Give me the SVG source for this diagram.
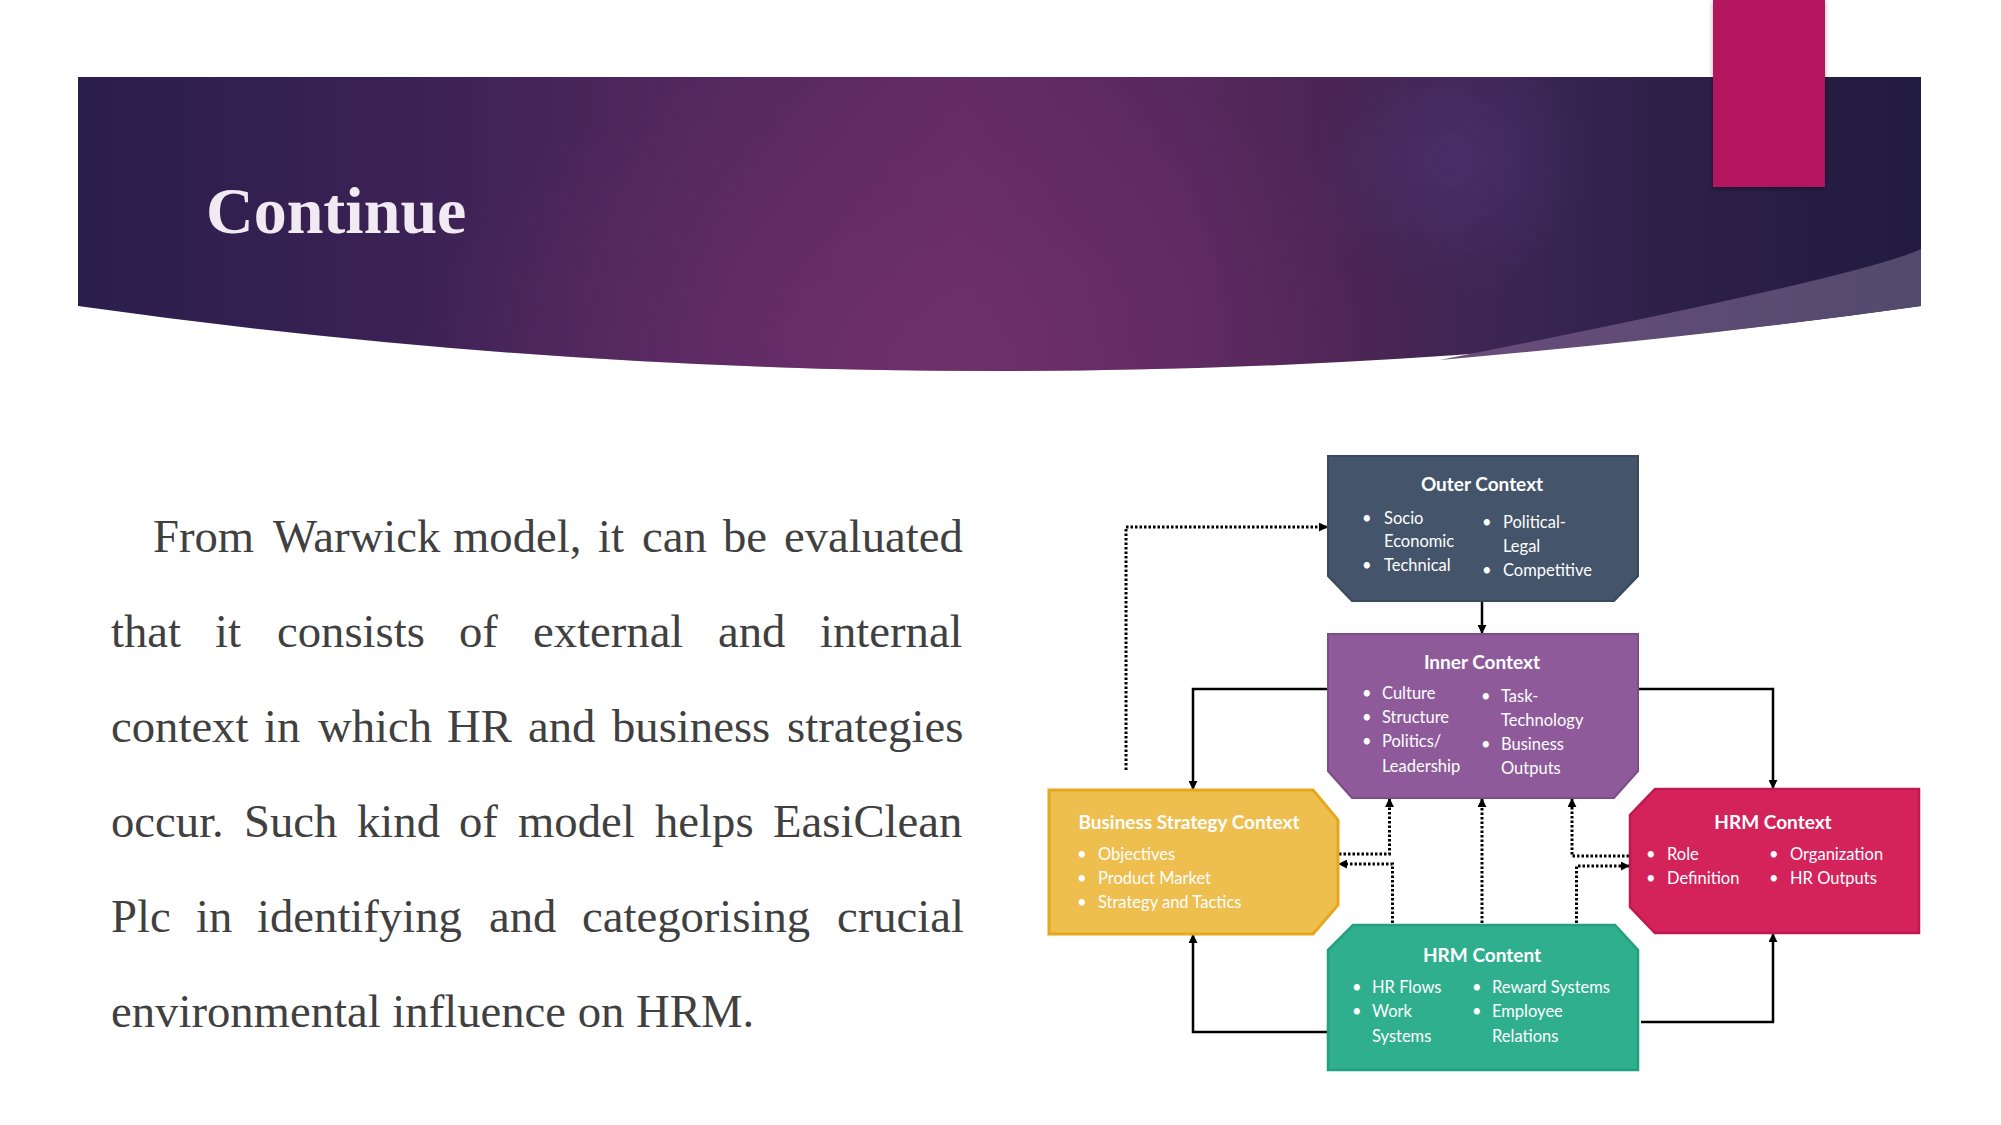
<svg xmlns="http://www.w3.org/2000/svg" width="2001" height="1125" viewBox="0 0 2001 1125">
<defs>
<linearGradient id="band" x1="78" y1="0" x2="1921" y2="0" gradientUnits="userSpaceOnUse">
<stop offset="0" stop-color="#2a1e4c"/>
<stop offset="0.18" stop-color="#3b2254"/>
<stop offset="0.35" stop-color="#552860"/>
<stop offset="0.48" stop-color="#632b65"/>
<stop offset="0.6" stop-color="#58285e"/>
<stop offset="0.7" stop-color="#472452"/>
<stop offset="0.78" stop-color="#3b2554"/>
<stop offset="0.86" stop-color="#2e2049"/>
<stop offset="1" stop-color="#221b40"/>
</linearGradient>
<radialGradient id="glowA" cx="930" cy="360" r="520" gradientUnits="userSpaceOnUse" gradientTransform="translate(930 360) scale(1 0.6) translate(-930 -360)">
<stop offset="0" stop-color="#7a3270" stop-opacity="0.55"/>
<stop offset="1" stop-color="#7a3270" stop-opacity="0"/>
</radialGradient>
<radialGradient id="glowB" cx="1450" cy="160" r="140" gradientUnits="userSpaceOnUse">
<stop offset="0" stop-color="#4c3474" stop-opacity="0.6"/>
<stop offset="1" stop-color="#4c3474" stop-opacity="0"/>
</radialGradient>
<linearGradient id="wedge" x1="1440" y1="0" x2="1921" y2="0" gradientUnits="userSpaceOnUse">
<stop offset="0" stop-color="#6a4d7c"/>
<stop offset="1" stop-color="#524a6c"/>
</linearGradient>
<filter id="shadow" x="-20%" y="-10%" width="140%" height="125%">
<feDropShadow dx="0" dy="2" stdDeviation="2.5" flood-color="#000" flood-opacity="0.35"/>
</filter>
<marker id="arr" viewBox="0 0 10 10" refX="9" refY="5" markerWidth="9" markerHeight="9" markerUnits="userSpaceOnUse" orient="auto">
<path d="M0,0 L10,5 L0,10 Z" fill="#000"/>
</marker>
</defs>
<style>
.body{font-family:"Liberation Serif","Times New Roman",serif;font-size:46.7px;fill:#404040}
.ttl{font-family:"Liberation Serif","Times New Roman",serif;font-size:66px;font-weight:bold;fill:#f2eaf2}
.nt{font-family:Lato,"Open Sans",sans-serif;font-weight:bold;font-size:19px;fill:#fff;text-anchor:middle}
.bt{font-family:Lato,"Open Sans",sans-serif;font-size:16.5px;fill:#fff}
.solid{fill:none;stroke:#000;stroke-width:2.5;marker-end:url(#arr)}
.dot{fill:none;stroke:#000;stroke-width:3;stroke-dasharray:2.5 2;marker-end:url(#arr)}
</style>
<rect width="2001" height="1125" fill="#fff"/>
<g id="header">
<path d="M78,77 H1921 V306 Q999.5,436 78,306 Z" fill="url(#band)"/>
<path d="M78,77 H1921 V306 Q999.5,436 78,306 Z" fill="url(#glowA)"/>
<path d="M78,77 H1921 V306 Q999.5,436 78,306 Z" fill="url(#glowB)"/>
<path d="M1440,360 Q1865,276 1921,249 V306 Q1700,337 1440,360 Z" fill="url(#wedge)"/>
<rect x="1713" y="0" width="112" height="187" fill="#b3135f" filter="url(#shadow)"/>
<text class="ttl" x="206" y="233">Continue</text>
</g>
<g id="body-text" class="body">
<text y="552"><tspan x="153">From</tspan><tspan x="273">Warwick</tspan><tspan x="453">model,</tspan><tspan x="598">it</tspan><tspan x="642">can</tspan><tspan x="723">be</tspan><tspan x="784">evaluated</tspan></text>
<text y="647"><tspan x="111">that</tspan><tspan x="215">it</tspan><tspan x="277">consists</tspan><tspan x="459">of</tspan><tspan x="533">external</tspan><tspan x="718">and</tspan><tspan x="820">internal</tspan></text>
<text y="742"><tspan x="111">context</tspan><tspan x="264">in</tspan><tspan x="318">which</tspan><tspan x="447">HR</tspan><tspan x="528">and</tspan><tspan x="612">business</tspan><tspan x="787">strategies</tspan></text>
<text y="837"><tspan x="111">occur.</tspan><tspan x="244">Such</tspan><tspan x="357">kind</tspan><tspan x="459">of</tspan><tspan x="518">model</tspan><tspan x="655">helps</tspan><tspan x="773">EasiClean</tspan></text>
<text y="932"><tspan x="111">Plc</tspan><tspan x="196">in</tspan><tspan x="257">identifying</tspan><tspan x="489">and</tspan><tspan x="582">categorising</tspan><tspan x="837">crucial</tspan></text>
<text y="1027" x="111">environmental influence on HRM.</text>
</g>
<g id="connectors">
<path class="solid" d="M1482,601 V633"/>
<path class="solid" d="M1328,689 H1193 V789"/>
<path class="solid" d="M1638,689 H1773 V788"/>
<path class="solid" d="M1328,1032 H1193 V935"/>
<path class="solid" d="M1641,1022 H1773 V934"/>
<path class="dot" d="M1126,770 V527 H1327"/>
<path class="dot" d="M1339,854 H1389.5 V799"/>
<path class="dot" d="M1392.5,923 V864 H1339"/>
<path class="dot" d="M1482,923 V799"/>
<path class="dot" d="M1629,856 H1572 V799"/>
<path class="dot" d="M1576.5,923 V866 H1629"/>
</g>
<g id="outer-context">
<path d="M1328,456 H1638 V576 L1614,601 H1352 L1328,576 Z" fill="#44546a" stroke="#3a495c" stroke-width="2"/>
<text class="nt" x="1482" y="491">Outer Context</text>
<text class="bt"><tspan x="1362" y="524">•</tspan><tspan x="1384" y="524">Socio</tspan><tspan x="1384" y="547">Economic</tspan><tspan x="1362" y="571">•</tspan><tspan x="1384" y="571">Technical</tspan></text>
<text class="bt"><tspan x="1482" y="528">•</tspan><tspan x="1503" y="528">Political-</tspan><tspan x="1503" y="552">Legal</tspan><tspan x="1482" y="576">•</tspan><tspan x="1503" y="576">Competitive</tspan></text>
</g>
<g id="inner-context">
<path d="M1328,634 H1638 V771 L1614,798 H1352 L1328,771 Z" fill="#8e5a9a" stroke="#7d4c89" stroke-width="2"/>
<text class="nt" x="1482" y="669">Inner Context</text>
<text class="bt"><tspan x="1362" y="699">•</tspan><tspan x="1382" y="699">Culture</tspan><tspan x="1362" y="723">•</tspan><tspan x="1382" y="723">Structure</tspan><tspan x="1362" y="747">•</tspan><tspan x="1382" y="747">Politics/</tspan><tspan x="1382" y="772">Leadership</tspan></text>
<text class="bt"><tspan x="1481" y="702">•</tspan><tspan x="1501" y="702">Task-</tspan><tspan x="1501" y="726">Technology</tspan><tspan x="1481" y="750">•</tspan><tspan x="1501" y="750">Business</tspan><tspan x="1501" y="774">Outputs</tspan></text>
</g>
<g id="business-strategy-context">
<path d="M1049,790 H1313 L1338,820 V905 L1313,934 H1049 Z" fill="#eebe4f" stroke="#e7a61f" stroke-width="3"/>
<text class="nt" x="1189" y="829">Business Strategy Context</text>
<text class="bt"><tspan x="1077" y="860">•</tspan><tspan x="1098" y="860">Objectives</tspan><tspan x="1077" y="884">•</tspan><tspan x="1098" y="884">Product Market</tspan><tspan x="1077" y="908">•</tspan><tspan x="1098" y="908">Strategy and Tactics</tspan></text>
</g>
<g id="hrm-context">
<path d="M1655,789 H1919 V933 H1655 L1630,907 V815 Z" fill="#d4225a" stroke="#bf1a4f" stroke-width="2.5"/>
<text class="nt" x="1773" y="829">HRM Context</text>
<text class="bt"><tspan x="1646" y="860">•</tspan><tspan x="1667" y="860">Role</tspan><tspan x="1646" y="884">•</tspan><tspan x="1667" y="884">Definition</tspan></text>
<text class="bt"><tspan x="1769" y="860">•</tspan><tspan x="1790" y="860">Organization</tspan><tspan x="1769" y="884">•</tspan><tspan x="1790" y="884">HR Outputs</tspan></text>
</g>
<g id="hrm-content">
<path d="M1353,925 H1615 L1638,950 V1070 H1328 V950 Z" fill="#30af8e" stroke="#23a07f" stroke-width="2.5"/>
<text class="nt" x="1482" y="962">HRM Content</text>
<text class="bt"><tspan x="1352" y="993">•</tspan><tspan x="1372" y="993">HR Flows</tspan><tspan x="1352" y="1017">•</tspan><tspan x="1372" y="1017">Work</tspan><tspan x="1372" y="1042">Systems</tspan></text>
<text class="bt"><tspan x="1472" y="993">•</tspan><tspan x="1492" y="993">Reward Systems</tspan><tspan x="1472" y="1017">•</tspan><tspan x="1492" y="1017">Employee</tspan><tspan x="1492" y="1042">Relations</tspan></text>
</g>
</svg>
